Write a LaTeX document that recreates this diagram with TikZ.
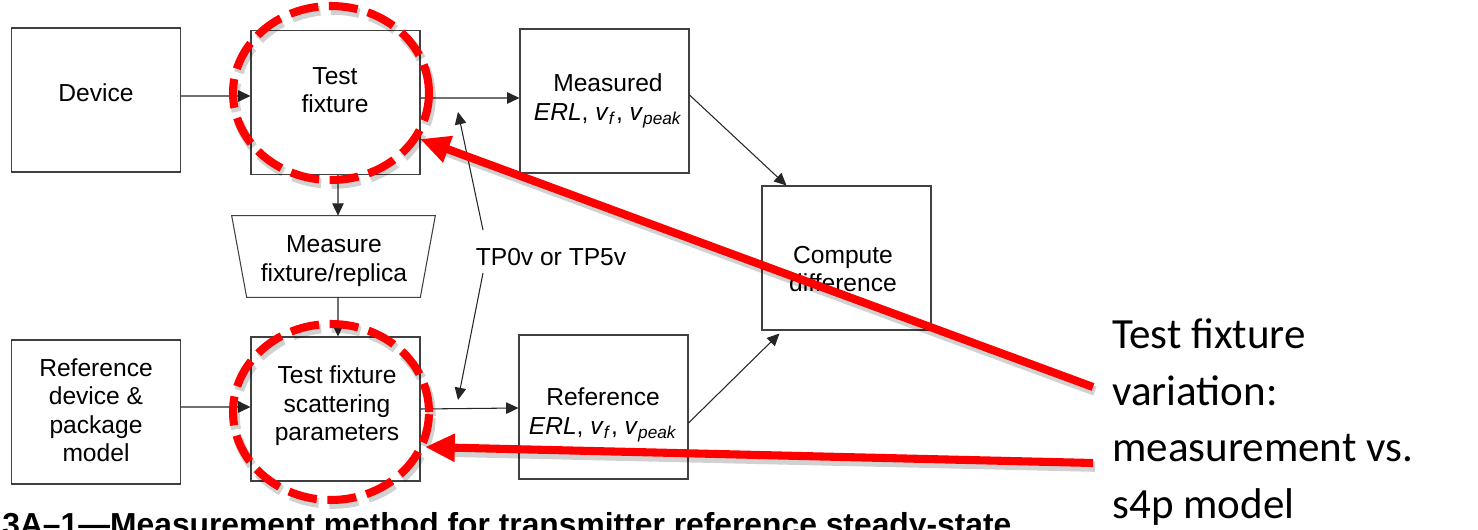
\documentclass[tikz,border=0pt]{standalone}
\usepackage{fontspec}
\setmainfont{Liberation Sans}
\newfontfamily\calib{Carlito}
\usetikzlibrary{arrows.meta,calc}
\begin{document}
\begin{tikzpicture}[x=0.02cm,y=-0.02cm,
  box/.style={draw=black!75,line width=0.6pt,minimum width=3.38cm,minimum height=2.88cm,inner sep=0pt},
  lbl/.style={align=center,font=\fontsize{14}{16.2}\selectfont,inner sep=0pt},
  arr/.style={draw=black!85,line width=0.6pt,-{Triangle[length=7pt,width=6.5pt]}},
  redarr/.style={draw=red,line width=4.6pt,-{Triangle[length=17pt,width=15pt]}},
  redring/.style={draw=red,line width=4.6pt,dash pattern=on 16.5pt off 6pt},
  shad/.style={draw=black,opacity=0.18,line width=5.5pt}]
\useasboundingbox (0,0) rectangle (1478,530);
\clip (0,0) rectangle (1478,530);
\fill[white] (0,0) rectangle (1478,530);

% boxes
\node[box] (dev) at (96,100) {};
\node[box] (tf) at (335.5,102.5) {};
\node[box] (meas) at (604.5,101) {};
\node[box] (comp) at (846.5,258) {};
\node[box] (rdev) at (96,412) {};
\node[box] (tfsp) at (335.5,409) {};
\node[box] (refb) at (603.5,407) {};
\node[inner sep=0pt,minimum width=4.06cm,minimum height=1.62cm] (trap) at (333.5,256.5) {};
\draw[black!75,line width=0.6pt] (trap.north west) -- (trap.north east)
  -- ([xshift=-0.3cm]trap.south east) -- ([xshift=0.3cm]trap.south west) -- cycle;

% texts
\node[lbl] (devT) at (96,93) {Device};
\node[lbl] (tfT) at (335,90) {Test\\fixture};
\node[lbl] (measT) at (608,101) {Measured\\\textit{ERL}, \textit{v}\textsubscript{\textit{f}}, \textit{v}\textsubscript{\textit{peak}}};
\node[lbl] (compT) at (843,269) {Compute\\difference};
\node[lbl] (trapT) at (334,261) {Measure\\fixture/replica};
\node[lbl] (tp) at (551,257) {TP0v or TP5v};
\node[lbl] (rdevT) at (96,410) {Reference\\device \&\\package\\model};
\node[lbl] (tfspT) at (337,406) {Test fixture\\scattering\\parameters};
\node[lbl] (refT) at (603,415) {Reference\\\textit{ERL}, \textit{v}\textsubscript{\textit{f}}, \textit{v}\textsubscript{\textit{peak}}};

% connectors
\draw[arr] ([yshift=0.08cm]dev.east) -- ([yshift=0.13cm]tf.west);
\draw[arr] ([yshift=0.09cm]tf.east) -- ([yshift=0.06cm]meas.west);
\draw[arr] ([xshift=0.05cm]tf.south) -- ([xshift=0.09cm]trap.north);
\draw[arr] ([xshift=0.09cm]trap.south) -- ([xshift=0.05cm]tfsp.north);
\draw[arr] ([yshift=0.1cm]rdev.east) -- ([yshift=0.04cm]tfsp.west);
\draw[arr] (tfsp.east) -- ([yshift=-0.02cm]refb.west);
\draw[arr] ([yshift=0.12cm]meas.east) -- ([xshift=0.5cm]comp.north west);
\draw[arr] ([yshift=-0.32cm]refb.east) -- ([xshift=0.36cm,yshift=-0.06cm]comp.south west);
\coordinate (tpu) at (483,230);
\coordinate (tpd) at (483,273);
\coordinate (tpu2) at (458,112);
\coordinate (tpd2) at (458,400);
\draw[arr] (tpu) -- (tpu2);
\draw[arr] (tpd) -- (tpd2);

% caption (cut off at the lower edge, as in the reference)
\node[anchor=base west,inner sep=0pt,font=\fontsize{18.1}{20}\selectfont\bfseries] (cap) at (2,535)
  {3A–1—Measurement method for transmitter reference steady-state};

% red annotations
\node[anchor=north west,align=left,inner sep=0pt,font=\calib\fontsize{24.5}{32.4}\selectfont] (rt) at (1112,318)
  {Test fixture\\variation:\\measurement vs.\\s4p model};
\coordinate (ra1) at (1093,387);
\coordinate (ra2) at (1093,463);
\coordinate (ta1) at (420,139);
\coordinate (ta2) at (425,447);

\begin{scope}[shift={(2,4)}]
\draw[shad,dash pattern=on 16.5pt off 6pt] (331,93) ellipse [x radius=1.96cm,y radius=1.74cm];
\draw[shad,dash pattern=on 16.5pt off 6pt] (331,412) ellipse [x radius=1.96cm,y radius=1.76cm];
\draw[shad] (1093,387) -- (440,146);
\draw[shad] (1093,463) -- (445,448);
\end{scope}
\draw[redring] (331,93) ellipse [x radius=1.96cm,y radius=1.74cm];
\draw[redring] (331,412) ellipse [x radius=1.96cm,y radius=1.76cm];
\draw[redarr] (ra1) -- (ta1);
\draw[redarr] (ra2) -- (ta2);
\end{tikzpicture}
\end{document}
